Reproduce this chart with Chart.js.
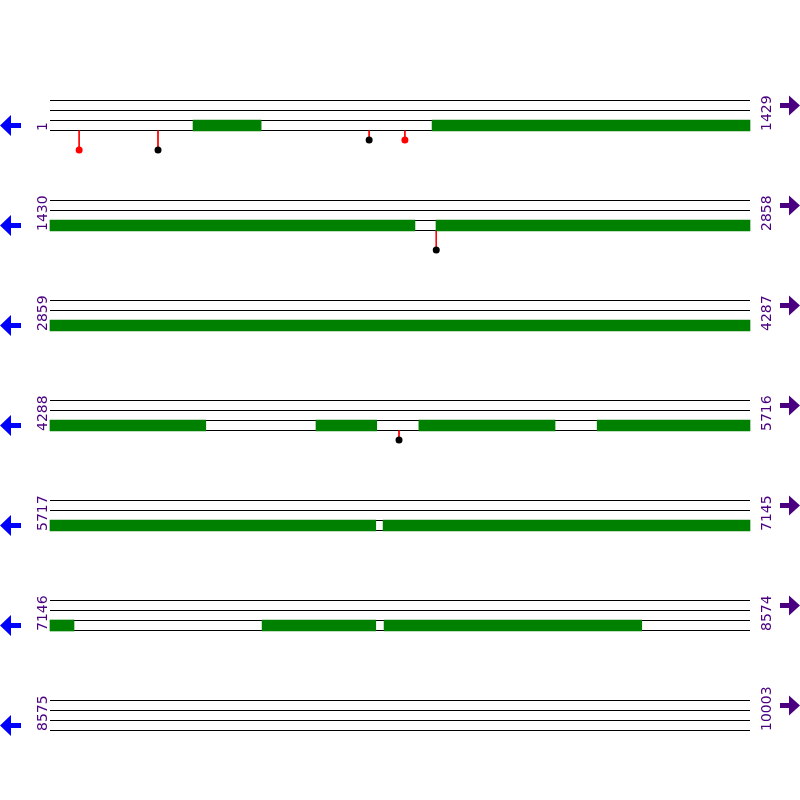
<!DOCTYPE html>
<html>
<head>
<meta charset="utf-8">
<title>Genome map</title>
<script src="https://cdn.jsdelivr.net/npm/chart.js@4.4.1/dist/chart.umd.min.js"></script>
<style>
  html, body { margin: 0; padding: 0; background: #ffffff; }
  #wrap { width: 800px; height: 800px; }
</style>
</head>
<body>
<div id="wrap"><canvas id="c" width="800" height="800"></canvas></div>
<script>
// ---------------- data ----------------
const rowStarts = [1, 1430, 2859, 4288, 5717, 7146, 8575];
const rowEnds   = [1429, 2858, 4287, 5716, 7145, 8574, 10003];

// green feature regions (genomic coordinates, inclusive)
const featureStarts = [293, 781, 2218, 4831, 5041, 5405, 6397, 7579, 7828];
const featureEnds   = [431, 2174, 4605, 4954, 5318, 6381, 7194, 7810, 8353];

// lollipop markers
const markerPositions = [60, 221, 652, 725, 2218, 5000];
const markerKinds     = ['A', 'B', 'B', 'A', 'B', 'B'];   // A = red, B = black
const markerTiers     = [2, 2, 1, 1, 2, 1];

// ---------------- layout / style (not data) ----------------
const ROW_LEN = 1429;
const PLOT_LEFT = 50, PLOT_RIGHT = 750, CANVAS_W = 800, CANVAS_H = 800;
const PX_PER_UNIT = (PLOT_RIGHT - PLOT_LEFT) / ROW_LEN;
const rowTop = r => 100 + 100 * r;
const kindColor = { A: '#ff0000', B: '#000000' };
const LABEL_COLOR = '#4B0082';

function rowOf(pos) {
  for (let r = 0; r < rowStarts.length; r++) {
    if (pos >= rowStarts[r] && pos <= rowEnds[r]) return r;
  }
  return -1;
}

// track lines: 4 per row
const trackLinePts = [];
rowStarts.forEach((s, r) => {
  [0, 10, 20, 30].forEach(off => {
    const y = rowTop(r) + off + 0.5;
    trackLinePts.push({ x: 0, y: y }, { x: ROW_LEN, y: y }, { x: 0, y: null });
  });
});

// feature bars, split across rows
const featureBars = [];
featureStarts.forEach((s, i) => {
  const e = featureEnds[i];
  rowStarts.forEach((rs, r) => {
    const re = rowEnds[r];
    const a = Math.max(s, rs), b = Math.min(e, re);
    if (a <= b) {
      featureBars.push({ x: [a - rs, b - rs + 1], y: rowTop(r) + 25.5 });
    }
  });
});

// stems and dots
const stemPts = [];
const dotPts = [];
const dotColors = [];
markerPositions.forEach((p, i) => {
  const r = rowOf(p);
  const u = p - rowStarts[r] + 0.5;
  const yTop = rowTop(r) + 30.5;
  const yDot = rowTop(r) + 30 + 10 * markerTiers[i];
  stemPts.push({ x: u, y: yTop }, { x: u, y: yDot }, { x: u, y: null });
  dotPts.push({ x: u, y: yDot });
  dotColors.push(kindColor[markerKinds[i]]);
});

// ---------------- decorations plugin: labels + arrows ----------------
const decoPlugin = {
  id: 'deco',
  afterDatasetsDraw(chart) {
    const ctx = chart.ctx;
    ctx.save();
    ctx.font = '14px "DejaVu Sans"';
    ctx.textAlign = 'left';
    ctx.textBaseline = 'alphabetic';
    rowStarts.forEach((s, r) => {
      const top = rowTop(r);
      // left label
      ctx.save();
      ctx.translate(47, top + 31);
      ctx.rotate(-Math.PI / 2);
      ctx.fillStyle = LABEL_COLOR;
      ctx.fillText(String(s), 0, 0);
      ctx.restore();
      // right label
      ctx.save();
      ctx.translate(771, top + 31);
      ctx.rotate(-Math.PI / 2);
      ctx.fillStyle = LABEL_COLOR;
      ctx.fillText(String(rowEnds[r]), 0, 0);
      ctx.restore();
      // left arrow (blue)
      let c = top + 25.5;
      ctx.fillStyle = '#0000ff';
      ctx.beginPath();
      ctx.moveTo(0, c);
      ctx.lineTo(11, c - 10.5);
      ctx.lineTo(11, c - 2.5);
      ctx.lineTo(21, c - 2.5);
      ctx.lineTo(21, c + 2.5);
      ctx.lineTo(11, c + 2.5);
      ctx.lineTo(11, c + 10.5);
      ctx.closePath();
      ctx.fill();
      // right arrow (purple)
      c = top + 5.5;
      ctx.fillStyle = LABEL_COLOR;
      ctx.beginPath();
      ctx.moveTo(800, c);
      ctx.lineTo(789, c - 10);
      ctx.lineTo(789, c - 2.5);
      ctx.lineTo(780, c - 2.5);
      ctx.lineTo(780, c + 2.5);
      ctx.lineTo(789, c + 2.5);
      ctx.lineTo(789, c + 10);
      ctx.closePath();
      ctx.fill();
    });
    ctx.restore();
  }
};

// ---------------- chart ----------------
const xMin = -PLOT_LEFT / PX_PER_UNIT;
const xMax = (CANVAS_W - PLOT_LEFT) / PX_PER_UNIT;

new Chart(document.getElementById('c'), {
  type: 'scatter',
  data: {
    datasets: [
      {
        type: 'scatter',
        label: 'markers',
        data: dotPts,
        pointRadius: 3.5,
        pointHoverRadius: 3.5,
        pointBackgroundColor: dotColors,
        pointBorderWidth: 0,
        borderWidth: 0,
        clip: false,
        order: 0
      },
      {
        type: 'bar',
        label: 'features',
        indexAxis: 'y',
        data: featureBars,
        backgroundColor: '#008000',
        borderWidth: 0,
        barThickness: 11,
        clip: false,
        order: 1
      },
      {
        type: 'line',
        label: 'stems',
        data: stemPts,
        borderColor: '#ff0000',
        borderWidth: 1,
        pointRadius: 0,
        spanGaps: false,
        fill: false,
        tension: 0,
        clip: false,
        order: 2
      },
      {
        type: 'line',
        label: 'tracks',
        data: trackLinePts,
        borderColor: '#000000',
        borderWidth: 1,
        pointRadius: 0,
        spanGaps: false,
        fill: false,
        tension: 0,
        clip: false,
        order: 3
      }
    ]
  },
  options: {
    responsive: false,
    animation: false,
    devicePixelRatio: 1,
    layout: { padding: 0, autoPadding: false },
    plugins: {
      legend: { display: false },
      tooltip: { enabled: false },
      title: { display: false }
    },
    events: [],
    scales: {
      x: { type: 'linear', display: false, min: xMin, max: xMax, offset: false, grace: 0, grid: { offset: false } },
      y: { type: 'linear', display: false, min: 0, max: CANVAS_H, reverse: true, offset: false, grace: 0, grid: { offset: false } }
    }
  },
  plugins: [decoPlugin]
});
</script>
</body>
</html>
